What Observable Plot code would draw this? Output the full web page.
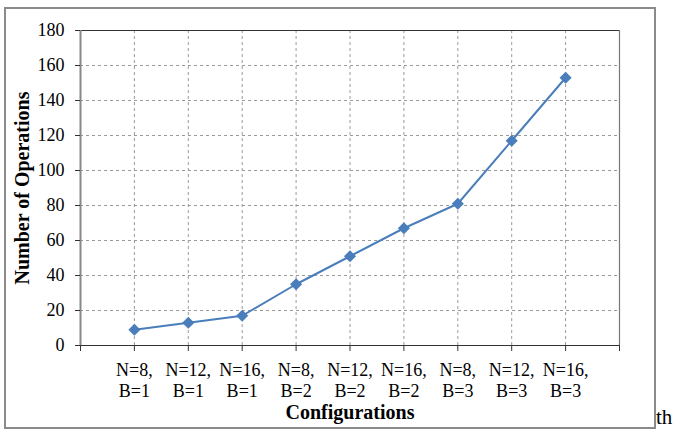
<!DOCTYPE html>
<html>
<head>
<meta charset="utf-8">
<script src="https://cdn.jsdelivr.net/npm/d3@7"></script>
<script src="https://cdn.jsdelivr.net/npm/@observablehq/plot@0.6"></script>
<style>
  html, body { margin: 0; padding: 0; background: #fff; }
  #wrap { position: relative; width: 674px; height: 430px; overflow: hidden; background: #fff; }
  #frame { position: absolute; left: 4px; top: 7px; width: 648px; height: 418px; border: 2px solid #8a8a8a; pointer-events: none; }
  #th { position: absolute; left: 656px; top: 405px; font-family: "Liberation Serif", serif; font-size: 21px; color: #000; }
</style>
</head>
<body>
<div id="wrap"><div id="frame"></div><span id="th">th</span></div>
<script>
// Data
const categories = ["N=8,\nB=1", "N=12,\nB=1", "N=16,\nB=1", "N=8,\nB=2", "N=12,\nB=2", "N=16,\nB=2", "N=8,\nB=3", "N=12,\nB=3", "N=16,\nB=3"];
const operations = [9, 13, 17, 35, 51, 67, 81, 117, 153];
const yTicks = [0, 20, 40, 60, 80, 100, 120, 140, 160, 180];
const xTitle = "Configurations";
const yTitle = "Number of Operations";

const data = categories.map((c, i) => ({pos: i + 1, label: c, value: operations[i]}));
const positions = data.map(d => d.pos);
const edgeTicks = d3.range(0, categories.length + 2);
const blue = "#4a7ebb";

const chart = Plot.plot({
  width: 674,
  height: 430,
  marginLeft: 80,
  marginRight: 55,
  marginTop: 30,
  marginBottom: 85,
  style: {fontFamily: "Liberation Serif", fontSize: "18px", color: "#000", background: "transparent"},
  x: {domain: [0, categories.length + 1]},
  y: {domain: [0, 180]},
  marks: [
    Plot.ruleY(yTicks.filter(t => t > 0 && t < 180), {stroke: "#9a9a9a", strokeDasharray: "3,3", strokeWidth: 1}),
    Plot.ruleX(positions, {stroke: "#9a9a9a", strokeDasharray: "3,3", strokeWidth: 1}),
    Plot.ruleY([180], {stroke: "#333", strokeWidth: 1.2}),
    Plot.ruleX([categories.length + 1], {stroke: "#777", strokeWidth: 1.2}),
    Plot.ruleX([0], {stroke: "#888", strokeWidth: 2}),
    Plot.ruleY([0], {stroke: "#333", strokeWidth: 1.2}),
    Plot.axisY({ticks: yTicks, tickSize: 5, tickPadding: 11, fontSize: 18, label: null, stroke: "#333"}),
    Plot.axisX({ticks: edgeTicks, tickSize: 6, tickPadding: 10, fontSize: 18, lineHeight: 1.15, label: null, stroke: "#333",
      tickFormat: d => (d >= 1 && d <= categories.length) ? categories[d - 1] : ""}),
    Plot.text([yTitle], {frameAnchor: "left", textAnchor: "middle", lineAnchor: "middle", rotate: -90, dx: -58, fontWeight: "bold", fontSize: 20}),
    Plot.text([xTitle], {frameAnchor: "bottom", textAnchor: "middle", lineAnchor: "middle", dy: 67, fontWeight: "bold", fontSize: 20}),
    Plot.line(data, {x: "pos", y: "value", stroke: blue, strokeWidth: 2}),
    Plot.dot(data, {x: "pos", y: "value", symbol: "diamond2", r: 4.5, fill: blue, stroke: blue})
  ]
});
chart.style.position = "absolute";
chart.style.left = "0px";
chart.style.top = "0px";
document.getElementById("wrap").prepend(chart);
</script>
</body>
</html>
